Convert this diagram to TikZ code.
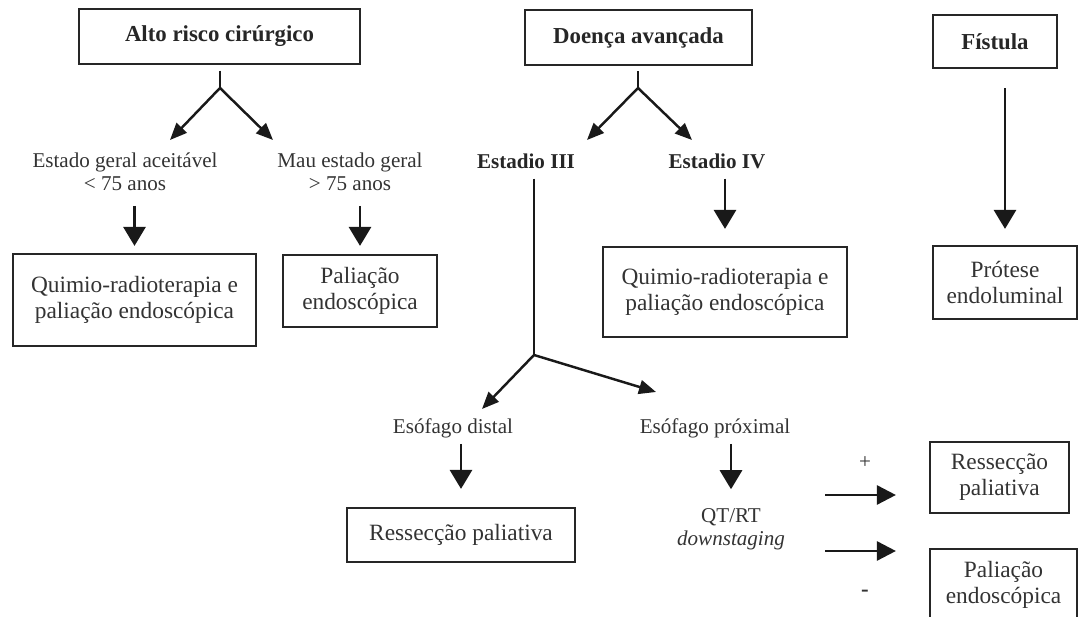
\documentclass[tikz,border=0pt]{standalone}
\usepackage{fontspec}
\setmainfont{Liberation Serif}
\usetikzlibrary{arrows.meta}
\tikzstyle{header} = [rectangle, draw=black!85, line width=1.3pt, inner sep=0pt, font=\bfseries\fontsize{13}{15}\selectfont, text=black!85]
\tikzstyle{result} = [rectangle, draw=black!85, line width=1.25pt, inner sep=0pt, align=center, font=\fontsize{13.3}{14.7}\selectfont, text=black!80]
\tikzstyle{choice} = [align=center, inner sep=1pt, font=\fontsize{12}{13}\selectfont, text=black!80]
\tikzstyle{stage} = [inner sep=1pt, font=\bfseries\fontsize{12}{13}\selectfont, text=black!85]
\tikzstyle{stem} = [line width=1.5pt, draw=black!90]
\tikzstyle{thinarrow} = [line width=1.4pt, draw=black!90, -{Triangle[length=0.34cm,width=0.28cm]}]
\tikzstyle{bigarrow} = [line width=1.7pt, draw=black!90, -{Triangle[length=0.38cm,width=0.44cm]}]
\tikzstyle{sidearrow} = [line width=1.5pt, draw=black!90, -{Triangle[length=0.38cm,width=0.38cm]}]

\begin{document}
\begin{tikzpicture}[x=0.02cm, y=-0.02cm]
\useasboundingbox (0,0) rectangle (1080,617);
\clip (0,0) rectangle (1080,617); % right and bottom boxes run off the page
	% headers
	\node (alto) [header, minimum width=5.62cm, minimum height=1.1cm] at (219.5,36.5) {Alto risco cirúrgico};
	\node (doenca) [header, minimum width=4.54cm, minimum height=1.1cm] at (638.5,37.5) {Doença avançada};
	\node (fistula) [header, minimum width=2.48cm, minimum height=1.06cm] at (995,41.5) {Fístula};
	% left branch
	\node (estado) [choice] at (125,172) {Estado geral aceitável\\< 75 anos};
	\node (mau) [choice] at (350,172) {Mau estado geral\\> 75 anos};
	\node (qrt1) [result, minimum width=4.86cm, minimum height=1.84cm] at (134.5,300) {Quimio-radioterapia e\\paliação endoscópica};
	\node (pal1) [result, minimum width=3.08cm, minimum height=1.44cm] at (360,291) {Paliação\\endoscópica};
	% middle branch
	\node (est3) [stage] at (526,161) {Estadio III};
	\node (est4) [stage] at (717,161) {Estadio IV};
	\node (qrt2) [result, minimum width=4.88cm, minimum height=1.8cm] at (725,292) {Quimio-radioterapia e\\paliação endoscópica};
	\node (distal) [choice] at (453,428) {Esófago distal};
	\node (proximal) [choice] at (715,428) {Esófago próximal};
	\node (ress1) [result, minimum width=4.56cm, minimum height=1.08cm] at (461,535) {Ressecção paliativa};
	\node (qtrt) [choice] at (731,529) {QT/RT\\\textit{downstaging}};
	\node (plus) [choice] at (865,463) {+};
	\node (minus) [choice, font=\bfseries\fontsize{13}{13}\selectfont] at (865,593) {-};
	% right branch
	\node (protese) [result, minimum width=2.88cm, minimum height=1.46cm] at (1005,282.5) {Prótese\\endoluminal};
	\node (ress2) [result, minimum width=2.78cm, minimum height=1.42cm] at (999.5,477.5) {Ressecção\\paliativa};
	\node (pal2) [result, minimum width=2.94cm, minimum height=1.42cm] at (1003.5,584.5) {Paliação\\endoscópica};
	% branch points and free arrow ends
	\coordinate (j1) at (220,88);
	\coordinate (j2) at (638,88);
	\coordinate (j3) at (534,355);
	\coordinate (e1) at (170,140);
	\coordinate (e2) at (273,140);
	\coordinate (e3) at (587,140);
	\coordinate (e4) at (692,140);
	\coordinate (e5) at (482,409);
	\coordinate (e6) at (656,392);
	\coordinate (h1) at (825,495);
	\coordinate (h2) at (825,551);
\draw [stem, shorten <=0.11cm] (alto.south -| j1) -- (j1);
\draw [thinarrow] (j1) -- (e1);
\draw [thinarrow] (j1) -- (e2);
\draw [bigarrow, shorten <=0.26cm, shorten >=0.14cm] (estado.south -| qrt1.north) -- (qrt1.north);
\draw [bigarrow, shorten <=0.26cm, shorten >=0.16cm] (mau.south -| pal1.north) -- (pal1.north);
\draw [stem, shorten <=0.1cm] (doenca.south -| j2) -- (j2);
\draw [thinarrow] (j2) -- (e3);
\draw [thinarrow] (j2) -- (e4);
\draw [stem, shorten <=0.16cm] (est3.south -| j3) -- (j3);
\draw [bigarrow, shorten <=0.16cm, shorten >=0.34cm] (est4.south -| qrt2.north) -- (qrt2.north);
\draw [thinarrow] (j3) -- (e5);
\draw [thinarrow] (j3) -- (e6);
\draw [bigarrow, shorten <=0.08cm, shorten >=0.36cm] (distal.south -| ress1.north) -- (ress1.north);
\draw [bigarrow, shorten <=0.08cm, shorten >=0.34cm] (proximal.south -| qtrt.north) -- (qtrt.north);
\draw [bigarrow, shorten <=0.38cm, shorten >=0.32cm] (fistula.south -| protese.north) -- (protese.north);
\draw [sidearrow, shorten >=0.66cm] (h1) -- (h1 -| ress2.west);
\draw [sidearrow, shorten >=0.66cm] (h2) -- (h2 -| pal2.west);
\end{tikzpicture}
\end{document}
